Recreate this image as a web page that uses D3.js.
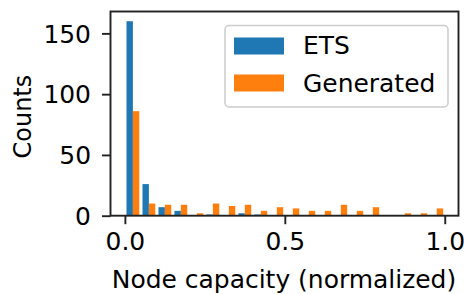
<!DOCTYPE html>
<html><head><meta charset="utf-8">
<script src="https://cdn.jsdelivr.net/npm/d3@7"></script>
<style>body{margin:0;background:#fff}svg{display:block}text{font-family:"DejaVu Sans",sans-serif;fill:#000}</style>
</head><body><svg id="c" width="464" height="294"></svg>
<script>
const binEdges = [0,0.05,0.1,0.15,0.2,0.25,0.3,0.35,0.4,0.45,0.5,0.55,0.6,0.65,0.7,0.75,0.8,0.85,0.9,0.95,1.0];
const etsCounts = [160,26,7,4,0,1,0,2,1,0,0,0,0,0,0,0,0,0,0,0];
const genCounts = [86,10,9,9,2,10,8,9,4,7,6,4,4,9,4,7,0,2,2,6];
const seriesNames = ["ETS","Generated"];
const seriesColors = ["#1f77b4","#ff7f0e"];
const xTicks = [0,0.5,1.0];
const yTicks = [0,50,100,150];

const svg = d3.select("#c");
const L=110.5,R=458.5,T=11.5,B=215.7;
const x = d3.scaleLinear().domain([-0.045,1.043]).range([L,R]);
const y = d3.scaleLinear().domain([0,168]).range([B,T]);
const FS = 24, SX = 1.04;

const series=[etsCounts,genCounts];
series.forEach((vals,si)=>{
  svg.append("g").selectAll("rect").data(vals).join("rect")
    .attr("x",(d,i)=>{const w=binEdges[i+1]-binEdges[i];return x(binEdges[i]+w*0.1+si*w*0.4);})
    .attr("width",(d,i)=>{const w=binEdges[i+1]-binEdges[i];return x(binEdges[i]+w*0.4)-x(binEdges[i]);})
    .attr("y",d=>y(d)).attr("height",d=>y(0)-y(d))
    .attr("fill",seriesColors[si]);
});

// axes
const xa = svg.append("g").attr("transform",`translate(0,${B})`)
  .call(d3.axisBottom(x).tickValues(xTicks).tickFormat(d3.format(".1f")).tickSize(8.5).tickPadding(8));
const ya = svg.append("g").attr("transform",`translate(${L},0)`)
  .call(d3.axisLeft(y).tickValues(yTicks).tickFormat(d3.format("d")).tickSize(8.5).tickPadding(8));
[xa,ya].forEach(a=>{
  a.select(".domain").remove();
  a.selectAll("line").attr("stroke","#222").attr("stroke-width",1.9);
  a.selectAll("text").style("font-size",FS+"px").attr("fill","#111");
});
xa.selectAll("text").attr("dy","0.76em").attr("transform",`scale(${SX},1)`);
ya.selectAll("text").attr("dy","0.36em").attr("x",-19.5/SX).attr("transform",`scale(${SX},1)`);

// frame
svg.append("rect").attr("x",L).attr("y",T).attr("width",R-L).attr("height",B-T)
  .attr("fill","none").attr("stroke","#222").attr("stroke-width",1.9);

// labels
svg.append("text").attr("transform",`translate(${(L+R)/2-0.5},288) scale(${SX},1)`).attr("text-anchor","middle")
  .style("font-size",FS+"px").text("Node capacity (normalized)");
svg.append("text").attr("transform",`translate(31,${(T+B)/2+3}) rotate(-90)`).attr("text-anchor","middle")
  .style("font-size",FS+"px").text("Counts");

// legend
const lg = svg.append("g");
lg.append("rect").attr("x",225).attr("y",25.5).attr("width",223).attr("height",81.5).attr("rx",4)
  .attr("fill","#fff").attr("fill-opacity",0.8).attr("stroke","#ccc").attr("stroke-width",1.5);
seriesNames.forEach((n,i)=>{
  lg.append("rect").attr("x",234).attr("y",37.5+i*37).attr("width",50).attr("height",17).attr("fill",seriesColors[i]);
  lg.append("text").attr("transform",`translate(303,${54+i*38}) scale(${SX},1)`).style("font-size",FS+"px").text(n);
});
</script></body></html>
